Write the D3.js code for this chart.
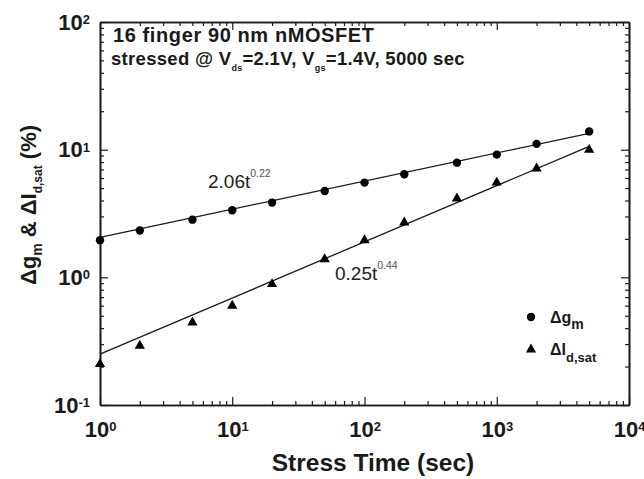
<!DOCTYPE html>
<html>
<head>
<meta charset="utf-8">
<script src="https://cdn.jsdelivr.net/npm/d3@7/dist/d3.min.js"></script>
<style>
  html, body { margin: 0; padding: 0; background: #fff; }
  svg { display: block; font-family: "Liberation Sans", Arial, Helvetica, sans-serif; }
</style>
</head>
<body>
<svg id="chart" width="644" height="479"></svg>
<script>
// ---- data ----
const times = [1, 2, 5, 10, 20, 50, 100, 200, 500, 1000, 2000, 5000];
const gmValues = [1.95, 2.33, 2.83, 3.35, 3.85, 4.74, 5.52, 6.41, 7.91, 9.14, 11.1, 13.9];
const idsatValues = [0.211, 0.294, 0.447, 0.604, 0.893, 1.40, 1.97, 2.71, 4.18, 5.57, 7.18, 10.05];
const gmFit = [2.06, 0.22];     // a, b of a*t^b
const idsatFit = [0.25, 0.44];
const fitRange = [1, 5000];
const xMajorTicks = [1, 10, 100, 1000, 10000];
const yMajorTicks = [0.1, 1, 10, 100];
const xTickExponents = ["0", "1", "2", "3", "4"];
const yTickExponents = ["-1", "0", "1", "2"];

// ---- layout ----
const svg = d3.select("#chart");
const L = 100, R = 629, T = 22, B = 405;
const x = d3.scaleLog().domain([1, 1e4]).range([L, R]);
const y = d3.scaleLog().domain([0.1, 100]).range([B, T]);
const ink = "#1a1a1a";

function minorTicks(scale) {
  const [a, b] = scale.domain();
  const out = [];
  for (let e = Math.round(Math.log10(a)); e < Math.round(Math.log10(b)); e++) {
    for (let m = 2; m <= 9; m++) out.push(m * Math.pow(10, e));
  }
  return out;
}

function styleAxis(g) {
  g.selectAll("path.domain").attr("stroke", ink).attr("stroke-width", 1.6);
  g.selectAll(".tick line").attr("stroke", ink).attr("stroke-width", 1.2);
}

// minor ticks (all four sides)
svg.append("g").attr("transform", `translate(0,${B})`)
  .call(d3.axisBottom(x).tickValues(minorTicks(x)).tickSizeInner(-4).tickSizeOuter(0).tickFormat(""))
  .call(styleAxis);
svg.append("g").attr("transform", `translate(0,${T})`)
  .call(d3.axisTop(x).tickValues(minorTicks(x)).tickSizeInner(-4).tickSizeOuter(0).tickFormat(""))
  .call(styleAxis);
svg.append("g").attr("transform", `translate(${L},0)`)
  .call(d3.axisLeft(y).tickValues(minorTicks(y)).tickSizeInner(-4).tickSizeOuter(0).tickFormat(""))
  .call(styleAxis);
svg.append("g").attr("transform", `translate(${R},0)`)
  .call(d3.axisRight(y).tickValues(minorTicks(y)).tickSizeInner(-4).tickSizeOuter(0).tickFormat(""))
  .call(styleAxis);

// major ticks
const xb = svg.append("g").attr("transform", `translate(0,${B})`)
  .call(d3.axisBottom(x).tickValues(xMajorTicks).tickSizeInner(-8).tickSizeOuter(0).tickPadding(16).tickFormat(() => ""))
  .call(styleAxis);
svg.append("g").attr("transform", `translate(0,${T})`)
  .call(d3.axisTop(x).tickValues(xMajorTicks).tickSizeInner(-8).tickSizeOuter(0).tickFormat(""))
  .call(styleAxis);
const yl = svg.append("g").attr("transform", `translate(${L},0)`)
  .call(d3.axisLeft(y).tickValues(yMajorTicks).tickSizeInner(-8).tickSizeOuter(0).tickPadding(10).tickFormat(() => ""))
  .call(styleAxis);
svg.append("g").attr("transform", `translate(${R},0)`)
  .call(d3.axisRight(y).tickValues(yMajorTicks).tickSizeInner(-8).tickSizeOuter(0).tickFormat(""))
  .call(styleAxis);

function powerLabel(sel, exps) {
  sel.each(function (d, i) {
    const t = d3.select(this)
      .attr("font-size", 22).attr("font-weight", "bold").attr("fill", ink)
      .attr("font-family", "'Liberation Sans', Arial, sans-serif");
    t.text(null);
    t.append("tspan").text("10");
    t.append("tspan").attr("dy", "-0.42em").attr("font-size", 13).text(exps[i]);
  });
}
xb.selectAll(".tick text").call(powerLabel, xTickExponents);
yl.selectAll(".tick text").call(powerLabel, yTickExponents);

// ---- fit lines ----
const line = d3.line().x(d => x(d[0])).y(d => y(d[1]));
function fitPts(f) { return fitRange.map(t => [t, f[0] * Math.pow(t, f[1])]); }
svg.append("path").datum(fitPts(gmFit)).attr("d", line)
  .attr("fill", "none").attr("stroke", ink).attr("stroke-width", 1.3);
svg.append("path").datum(fitPts(idsatFit)).attr("d", line)
  .attr("fill", "none").attr("stroke", ink).attr("stroke-width", 1.3);

// ---- markers ----
const triangle = d3.symbol().type(d3.symbolTriangle).size(46);
svg.append("g").selectAll("circle").data(times.map((t, i) => [t, gmValues[i]]))
  .join("circle").attr("cx", d => x(d[0])).attr("cy", d => y(d[1])).attr("r", 4.2).attr("fill", "#000");
svg.append("g").selectAll("path").data(times.map((t, i) => [t, idsatValues[i]]))
  .join("path").attr("d", triangle)
  .attr("transform", d => `translate(${x(d[0])},${y(d[1]) + 0.5})`).attr("fill", "#000");

// ---- fit annotations ----
function fitText(px, py, base, exp) {
  const t = svg.append("text").attr("x", px).attr("y", py)
    .attr("font-size", 19).attr("fill", "#222");
  t.append("tspan").text(base);
  t.append("tspan").attr("dy", -11).attr("font-size", 10.5).attr("fill", "#555").text(exp);
}
fitText(208, 188, "2.06t", gmFit[1].toFixed(2));
fitText(335, 280, "0.25t", idsatFit[1].toFixed(2));

// ---- header text ----
svg.append("text").attr("x", 113).attr("y", 42)
  .attr("font-size", 20).attr("font-weight", "bold").attr("fill", ink)
  .attr("letter-spacing", 0.6)
  .text("16 finger 90 nm nMOSFET");
const h2 = svg.append("text").attr("x", 111).attr("y", 65)
  .attr("font-size", 18.5).attr("font-weight", "bold").attr("fill", ink)
  .attr("letter-spacing", 0.3);
h2.append("tspan").text("stressed @ V");
h2.append("tspan").attr("dy", 6).attr("font-size", 9).text("ds");
h2.append("tspan").attr("dy", -6).text("=2.1V, V");
h2.append("tspan").attr("dy", 6).attr("font-size", 9).text("gs");
h2.append("tspan").attr("dy", -6).text("=1.4V, 5000 sec");

// ---- axis titles ----
svg.append("text").attr("x", 373).attr("y", 471).attr("text-anchor", "middle")
  .attr("font-size", 24.5).attr("font-weight", "bold").attr("fill", ink)
  .text("Stress Time (sec)");

const yt = svg.append("text").attr("transform", "translate(36,205) rotate(-90)")
  .attr("text-anchor", "middle").attr("font-size", 22).attr("font-weight", "bold").attr("fill", ink);
yt.append("tspan").text("Δg");
yt.append("tspan").attr("dy", 6).attr("font-size", 14).text("m");
yt.append("tspan").attr("dy", -6).text(" & ΔI");
yt.append("tspan").attr("dy", 6).attr("font-size", 12).text("d,sat");
yt.append("tspan").attr("dy", -6).text(" (%)");

// ---- legend ----
const legend = svg.append("g");
legend.append("circle").attr("cx", 531).attr("cy", 317).attr("r", 4.2).attr("fill", "#000");
legend.append("path").attr("d", triangle).attr("transform", "translate(531,349.5)").attr("fill", "#000");
const l1 = legend.append("text").attr("x", 550).attr("y", 323).attr("font-size", 16).attr("font-weight", "bold").attr("fill", ink);
l1.append("tspan").text("Δg");
l1.append("tspan").attr("dy", 6).attr("font-size", 14).text("m");
const l2 = legend.append("text").attr("x", 550).attr("y", 355).attr("font-size", 16).attr("font-weight", "bold").attr("fill", ink);
l2.append("tspan").text("ΔI");
l2.append("tspan").attr("dy", 7).attr("font-size", 13).text("d,sat");
</script>
</body>
</html>
